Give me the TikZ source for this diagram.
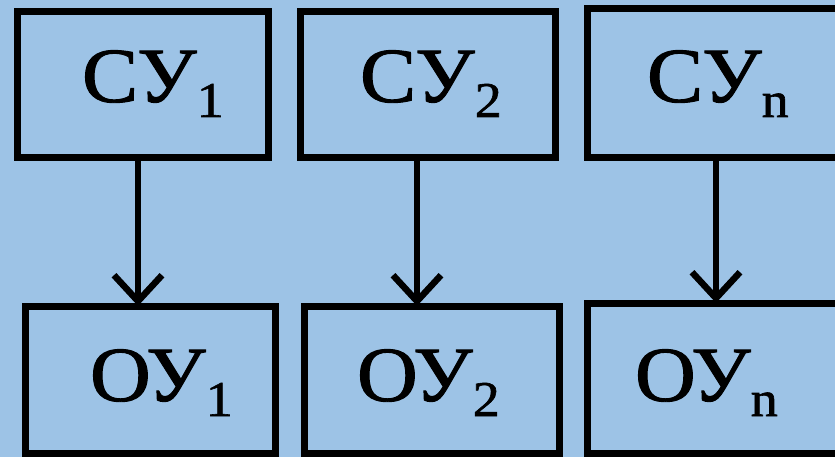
\documentclass[tikz,border=0pt]{standalone}
\usepackage{fontspec}
\setmainfont{Liberation Serif}
\newfontfamily\lblfont[FakeBold=1.2]{Liberation Serif}
\usetikzlibrary{arrows.meta}
\definecolor{bg}{HTML}{9DC3E6}
\newcommand{\lbl}[2]{\scalebox{1.08}[1]{\lblfont\fontsize{78}{78}\selectfont #1\raisebox{-15pt}{\fontsize{50}{50}\selectfont #2}}}
\begin{document}
\begin{tikzpicture}[x=1pt,y=-1pt,
  box/.style={draw=black,fill=bg,line width=7pt,rectangle,outer sep=0pt,inner sep=0pt,anchor=north west},
  lab/.style={anchor=base west,inner sep=0pt,outer sep=0pt},
  conn/.style={line width=6.5pt,-{Straight Barb[length=26pt,width=48pt,line cap=butt]}}]
\useasboundingbox (0,0) rectangle (835,457);
\clip (0,0) rectangle (835,457);
\fill[bg] (0,0) rectangle (835,457);
\node[box,minimum width=251pt,minimum height=146pt] (a1) at (17,12) {};
\node[box,minimum width=255pt,minimum height=146pt] (a2) at (300,12) {};
\node[box,minimum width=300pt,minimum height=149pt] (a3) at (587,9) {};
\node[box,minimum width=250pt,minimum height=147pt] (b1) at (25,306) {};
\node[box,minimum width=254.5pt,minimum height=147pt] (b2) at (304.5,306) {};
\node[box,minimum width=300pt,minimum height=150pt] (b3) at (587,303) {};
\node[lab] (ta1) at (82,102) {\lbl{СУ}{1}};
\node[lab] (ta2) at (360,102) {\lbl{СУ}{2}};
\node[lab] (ta3) at (647,102) {\lbl{СУ}{n}};
\node[lab] (tb1) at (90,401) {\lbl{ОУ}{1}};
\node[lab] (tb2) at (357,401) {\lbl{ОУ}{2}};
\node[lab] (tb3) at (635,401) {\lbl{ОУ}{n}};
\draw[conn] ([xshift=-4.5pt]a1.south) -- ([xshift=-12pt]b1.north);
\draw[conn] ([xshift=-10.5pt]a2.south) -- ([xshift=-14.75pt]b2.north);
\draw[conn] ([xshift=129pt]a3.south west) -- ([xshift=129pt]b3.north west);
\end{tikzpicture}
\end{document}
